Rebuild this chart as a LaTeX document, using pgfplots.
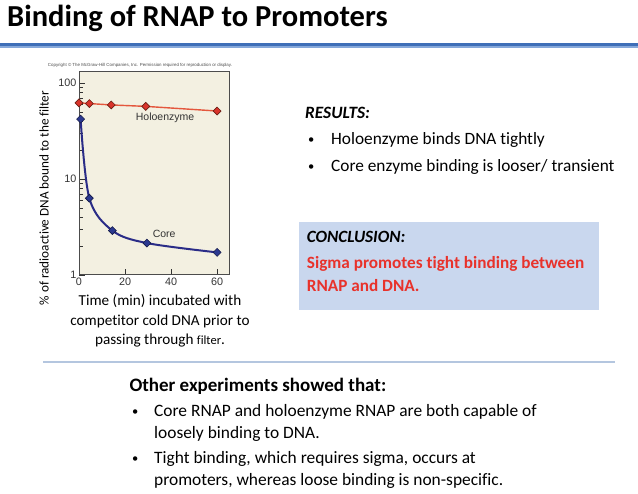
\documentclass[border=0pt]{standalone}
\usepackage{fontspec}
\setmainfont{Carlito}[Ligatures=NoCommon]
\newfontfamily\arial{Liberation Sans}
\usepackage{pgfplots}
\pgfplotsset{compat=1.18}

\definecolor{bluebar}{HTML}{3F6FB8}
\definecolor{bluebarlight}{HTML}{86A8DA}
\definecolor{sepcol}{HTML}{B4C6DF}
\definecolor{boxcol}{HTML}{C9D7EE}
\definecolor{concred}{HTML}{E8322B}
\definecolor{plotbg}{HTML}{F3F0E1}
\definecolor{hololine}{HTML}{E4573D}
\definecolor{holofill}{HTML}{D9342B}
\definecolor{holoedge}{HTML}{6A1E14}
\definecolor{coreline}{HTML}{2A2C87}
\definecolor{corefill}{HTML}{2B3990}
\definecolor{coreedge}{HTML}{121848}

\begin{document}
\begin{tikzpicture}
\path[use as bounding box] (0pt,0pt) rectangle (638pt,494pt);

% chart
\begin{axis}[
  at={(79pt,219pt)}, anchor=south west,
  scale only axis, width=151pt, height=203pt,
  xmin=0, xmax=65.6,
  ymode=log, ymin=1, ymax=130,
  xtick={0,20,40,60}, xticklabels={0,20,40,60},
  ytick={1,10,100}, yticklabels={1,10,100},
  minor ytick={2,3,4,5,6,7,8,9,20,30,40,50,60,70,80,90},
  tick pos=left, tick align=inside,
  major tick length=6pt, minor tick length=3.5pt,
  tick style={gray!40!black, line width=0.6pt},
  axis line style={gray!60!black, line width=1pt},
  axis background/.style={fill=plotbg},
  ticklabel style={font=\arial\fontsize{10.8}{12}\selectfont, text=black!80},
  xticklabel style={yshift=1pt},
  yticklabel style={xshift=1pt},
  clip=false,
]
\addplot[hololine, line width=1.4pt, mark=square*, mark size=2.8pt,
  mark options={rotate=45, fill=holofill, draw=holoedge, line width=0.6pt}]
  coordinates {(0,62) (4.5,61) (14,59) (29,57) (60,51)};
\addplot[coreline, line width=2pt, smooth, tension=0.55, mark=square*, mark size=2.8pt,
  mark options={rotate=45, fill=corefill, draw=coreedge, line width=0.6pt}]
  coordinates {(0.7,42) (4.5,6.3) (14.5,2.9) (29.5,2.15) (60,1.72)};
\node[anchor=base, font=\arial\fontsize{10.5}{12}\selectfont, text=black!80]
  at (axis cs:37.4,40.2) {Holoenzyme};
\node[anchor=base, font=\arial\fontsize{10.5}{12}\selectfont, text=black!80]
  at (axis cs:37,2.43) {Core};
\end{axis}

\begin{scope}[x=1pt, yshift=494pt, y=-1pt]
% title and rule
\node[anchor=base west, inner sep=0pt, font=\bfseries\fontsize{30.5}{32}\selectfont] at (7,26.7) {Binding of RNAP to Promoters};
\fill[bluebar] (0,43.5) rectangle (638,46.5);
\fill[bluebarlight] (0,46.5) rectangle (638,48.5);

% chart texts
\node[anchor=base, inner sep=0pt, font=\arial\fontsize{4.4}{5}\selectfont, text=black!70] at (140,67) {Copyright \textcopyright\ The McGraw-Hill Companies, Inc. Permission required for reproduction or display.};
\node[rotate=90, anchor=center, inner sep=0pt, font=\fontsize{13.2}{15}\selectfont] at (44,198) {\% of radioactive DNA bound to the filter};
\node[anchor=base, inner sep=0pt, font=\fontsize{15.2}{17}\selectfont] at (160,305.7) {Time (min) incubated with};
\node[anchor=base, inner sep=0pt, font=\fontsize{15.2}{17}\selectfont] at (160,325.7) {competitor cold DNA prior to};
\node[anchor=base, inner sep=0pt, font=\fontsize{15.2}{17}\selectfont] at (160,345) {passing through {\fontsize{12.5}{14}\selectfont filter}.};

% results
\node[anchor=base west, inner sep=0pt, font=\bfseries\itshape\fontsize{17.3}{20}\selectfont] at (305,118.3) {RESULTS:};
\node[anchor=base west, inner sep=0pt, font=\fontsize{12.5}{15}\selectfont] at (308,143.5) {•};
\node[anchor=base west, inner sep=0pt, font=\fontsize{17.3}{20}\selectfont] at (331,145) {Holoenzyme binds DNA tightly};
\node[anchor=base west, inner sep=0pt, font=\fontsize{12.5}{15}\selectfont] at (308,170.2) {•};
\node[anchor=base west, inner sep=0pt, font=\fontsize{17.3}{20}\selectfont] at (331,171.7) {Core enzyme binding is looser/ transient};

% conclusion box
\fill[boxcol] (299,222) rectangle (599,310);
\node[anchor=base west, inner sep=0pt, font=\bfseries\itshape\fontsize{17.2}{20}\selectfont] at (306.7,242.3) {CONCLUSION:};
\node[anchor=base west, inner sep=0pt, font=\bfseries\fontsize{17.2}{20}\selectfont, text=concred] at (306.7,268.3) {Sigma promotes tight binding between};
\node[anchor=base west, inner sep=0pt, font=\bfseries\fontsize{17.2}{20}\selectfont, text=concred] at (306.7,291.7) {RNAP and DNA.};

% separator and bottom text
\draw[sepcol, line width=1.3pt] (43,362) -- (615,362);
\node[anchor=base west, inner sep=0pt, font=\bfseries\fontsize{19}{22}\selectfont] at (129.3,391.7) {Other experiments showed that:};
\node[anchor=base west, inner sep=0pt, font=\fontsize{12.5}{15}\selectfont] at (132,415.2) {•};
\node[anchor=base west, inner sep=0pt, font=\fontsize{17.4}{20}\selectfont] at (154,416.7) {Core RNAP and holoenzyme RNAP are both capable of};
\node[anchor=base west, inner sep=0pt, font=\fontsize{17.4}{20}\selectfont] at (154,438.7) {loosely binding to DNA.};
\node[anchor=base west, inner sep=0pt, font=\fontsize{12.5}{15}\selectfont] at (132,462.5) {•};
\node[anchor=base west, inner sep=0pt, font=\fontsize{17.4}{20}\selectfont] at (154,464) {Tight binding, which requires sigma, occurs at};
\node[anchor=base west, inner sep=0pt, font=\fontsize{17.4}{20}\selectfont] at (154,486) {promoters, whereas loose binding is non-specific.};
\end{scope}
\end{tikzpicture}
\end{document}
